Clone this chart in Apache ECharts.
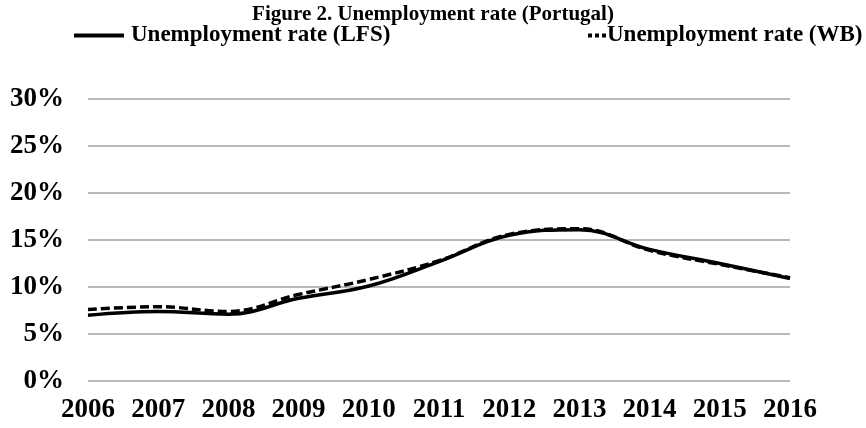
<!DOCTYPE html>
<html>
<head>
<meta charset="utf-8">
<script src="https://cdn.jsdelivr.net/npm/echarts@6/dist/echarts.min.js"></script>
<style>
  html, body { margin: 0; padding: 0; background: #fff; }
  #chart { width: 866px; height: 428px; }
</style>
</head>
<body>
<div id="chart"></div>
<script>
// data
const years = ['2006', '2007', '2008', '2009', '2010', '2011', '2012', '2013', '2014', '2015', '2016'];
const lfsRate = [7.0, 7.4, 7.1, 8.8, 10.1, 12.7, 15.5, 16.1, 14.0, 12.5, 10.9];
const wbRate = [7.6, 7.9, 7.4, 9.2, 10.8, 12.8, 15.6, 16.2, 13.9, 12.4, 11.0];
const yTicks = [0, 5, 10, 15, 20, 25, 30];

const serif = '"Liberation Serif", "DejaVu Serif", serif';

const chart = echarts.init(document.getElementById('chart'));

const option = {
  animation: false,
  title: {
    text: 'Figure 2. Unemployment rate (Portugal)',
    left: 'center',
    top: -1,
    textStyle: { fontFamily: serif, fontWeight: 'bold', fontSize: 21, color: '#000' }
  },
  legend: [
    {
      left: 69,
      top: 19,
      itemWidth: 50,
      itemHeight: 4,
      icon: 'rect',
      data: [{ name: 'Unemployment rate (LFS)' }],
      textStyle: { fontFamily: serif, fontWeight: 'bold', fontSize: 23, color: '#000', padding: [0, 0, 0, 2] }
    },
    {
      left: 583,
      top: 19,
      itemWidth: 18,
      itemHeight: 4,
      icon: 'path://M0,0h4v4h-4zM7,0h4v4h-4zM14,0h4v4h-4z',
      data: [{ name: 'Unemployment rate (WB)' }],
      textStyle: { fontFamily: serif, fontWeight: 'bold', fontSize: 23, color: '#000', padding: [0, 0, 0, -4] }
    }
  ],
  grid: { left: 88, right: 76, top: 99, bottom: 47 },
  xAxis: {
    type: 'category',
    data: years,
    boundaryGap: false,
    axisLine: { show: false },
    axisTick: { show: false },
    axisLabel: { interval: 0, fontFamily: serif, fontWeight: 'bold', fontSize: 27, color: '#000', margin: 16 }
  },
  yAxis: {
    type: 'value',
    min: yTicks[0],
    max: yTicks[yTicks.length - 1],
    interval: 5,
    axisLine: { show: false },
    axisTick: { show: false },
    splitLine: { lineStyle: { color: '#a0a0a0', width: 1.5 } },
    axisLabel: {
      fontFamily: serif, fontWeight: 'bold', fontSize: 27, color: '#000', margin: 24,
      formatter: v => v + '%'
    }
  },
  series: [
    {
      name: 'Unemployment rate (LFS)',
      type: 'line',
      data: lfsRate,
      smooth: 0.4,
      symbol: 'none',
      lineStyle: { color: '#000', width: 3.5 },
      itemStyle: { color: '#000' }
    },
    {
      name: 'Unemployment rate (WB)',
      type: 'line',
      data: wbRate,
      smooth: 0.4,
      symbol: 'none',
      lineStyle: { color: '#000', width: 3.5, type: [9, 4] },
      itemStyle: { color: '#000' }
    }
  ]
};

chart.setOption(option);
</script>
</body>
</html>
